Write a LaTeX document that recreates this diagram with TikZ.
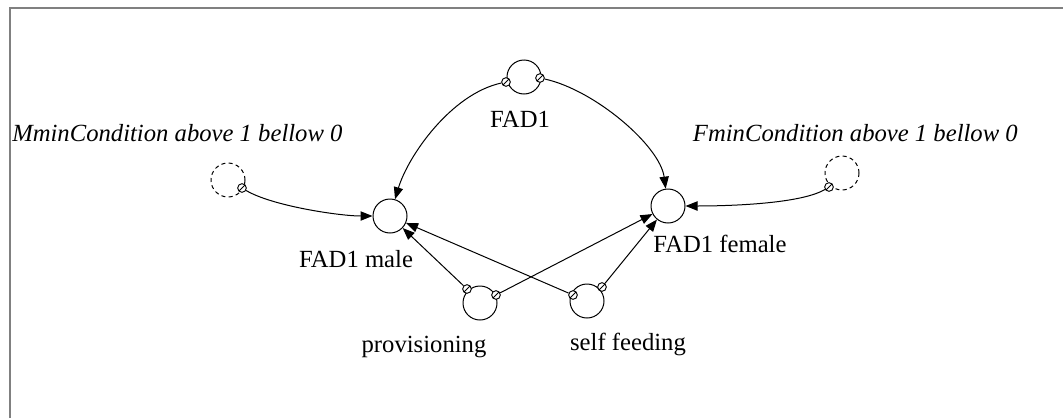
\documentclass[tikz,border=0pt]{standalone}
\usepackage{fontspec}
\setmainfont{Liberation Serif}
\usetikzlibrary{arrows.meta}
\definecolor{framegray}{RGB}{128,128,128}
\begin{document}
\begin{tikzpicture}[x=0.75pt,y=-0.75pt,
  big/.style={circle,draw,line width=0.75pt,minimum size=25.5pt,inner sep=0pt},
  dbig/.style={big,dash pattern=on 3pt off 2.5pt},
  port/.style={circle,draw,fill=white,line width=0.7pt,minimum size=6.5pt,inner sep=0pt,
    path picture={\draw[line width=0.6pt] (path picture bounding box.north east) -- (path picture bounding box.south west);}},
  lbl/.style={font=\fontsize{18.5}{22}\selectfont, anchor=base, inner sep=0pt},
  ilbl/.style={font=\fontsize{18.5}{22}\selectfont\itshape, inner sep=0pt},
  conn/.style={line width=0.75pt, -{Triangle[length=9pt,width=7pt]}},
  frame/.style={line width=1.5pt, draw=framegray}
]
\useasboundingbox (0,0) rectangle (1063,418);
\draw[frame] (10,418) -- (10,8) -- (1063,8);

% main circles
\node[big] (fad1) at (524,77) {};
\node[big] (male) at (390,216) {};
\node[big] (female) at (668,206) {};
\node[dbig] (mmin) at (228,180) {};
\node[dbig] (fmin) at (842,173) {};
\node[big] (prov) at (480,303) {};
\node[big] (self) at (587,301) {};

% ports
\node[port] (fad1L) at (506,82) {};
\node[port] (fad1R) at (540,78) {};
\node[port] (mminS) at (242,188) {};
\node[port] (fminS) at (829,187) {};
\node[port] (provL) at (467,289) {};
\node[port] (provR) at (496,295) {};
\node[port] (selfL) at (573,295) {};
\node[port] (selfR) at (602,287) {};

% connectors
\draw[conn] (fad1L) .. controls +(-55,12) and +(18,-60) .. (male);
\draw[conn] (fad1R) .. controls +(55,12) and +(-8,-60) .. (female);
\draw[conn] (mminS) .. controls +(30,18) and +(-50,0) .. (male);
\draw[conn] (fminS) .. controls +(-30,18) and +(50,0) .. (female);
\draw[conn] (provL) -- (male);
\draw[conn] (selfL) -- (male);
\draw[conn] (provR) -- (female);
\draw[conn] (selfR) -- (female);

% labels
\node[lbl] (lfad1) at (520,127) {FAD1};
\node[lbl] (lmale) at (356,267) {FAD1 male};
\node[lbl] (lfemale) at (720,252) {FAD1 female};
\node[lbl] (lprov) at (424,352) {provisioning};
\node[lbl] (lself) at (628,350) {self feeding};
\node[ilbl, anchor=base west] (lmmin) at (12,141) {MminCondition above 1 bellow 0};
\node[ilbl, anchor=base east] (lfmin) at (1018,141) {FminCondition above 1 bellow 0};
\end{tikzpicture}
\end{document}
